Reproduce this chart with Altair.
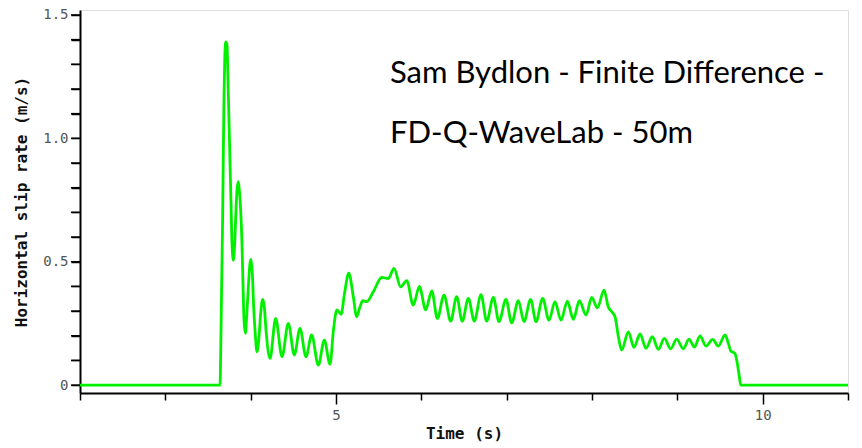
import altair as alt
import pandas as pd

# Time (s) and horizontal slip rate (m/s)
time_s = [2.0, 3.641, 3.649, 3.660, 3.672, 3.680, 3.688, 3.696, 3.707, 3.723, 3.734, 3.746,
          3.758, 3.770, 3.781, 3.797, 3.813, 3.828, 3.840, 3.855, 3.867, 3.883, 3.898, 3.910,
          3.922, 3.938, 3.953, 3.973, 3.992, 4.004, 4.020, 4.035, 4.051, 4.074, 4.098, 4.117,
          4.141, 4.160, 4.180, 4.227, 4.293, 4.367, 4.441, 4.512, 4.578, 4.648, 4.715, 4.793,
          4.863, 4.930, 4.970, 5.010, 5.060, 5.100, 5.150, 5.203, 5.242, 5.281, 5.313, 5.360,
          5.437, 5.536, 5.613, 5.680, 5.758, 5.829, 5.906, 5.977, 6.051, 6.122, 6.188, 6.266,
          6.344, 6.414, 6.480, 6.551, 6.621, 6.699, 6.766, 6.844, 6.910, 6.992, 7.059, 7.137,
          7.203, 7.281, 7.344, 7.422, 7.496, 7.566, 7.637, 7.711, 7.781, 7.852, 7.930, 7.997,
          8.063, 8.141, 8.191, 8.231, 8.270, 8.309, 8.348, 8.426, 8.492, 8.563, 8.633, 8.707,
          8.777, 8.848, 8.922, 8.992, 9.070, 9.137, 9.200, 9.266, 9.336, 9.414, 9.480, 9.559,
          9.598, 9.625, 9.676, 9.703, 9.727, 9.742, 11.0]
slip_rate = [0.0, 0.0, 0.135, 0.405, 0.689, 0.952, 1.175, 1.317, 1.391, 1.378, 1.236, 1.074,
             0.899, 0.737, 0.575, 0.506, 0.575, 0.709, 0.790, 0.824, 0.790, 0.709, 0.575, 0.413,
             0.263, 0.210, 0.277, 0.398, 0.493, 0.509, 0.452, 0.317, 0.223, 0.135, 0.196, 0.290,
             0.347, 0.317, 0.223, 0.108, 0.270, 0.115, 0.250, 0.122, 0.230, 0.115, 0.203, 0.081,
             0.182, 0.085, 0.223, 0.305, 0.287, 0.372, 0.454, 0.358, 0.277, 0.317, 0.342, 0.338,
             0.378, 0.436, 0.432, 0.473, 0.398, 0.423, 0.324, 0.400, 0.305, 0.382, 0.270, 0.365,
             0.259, 0.358, 0.259, 0.351, 0.259, 0.367, 0.259, 0.355, 0.257, 0.347, 0.252, 0.342,
             0.257, 0.347, 0.257, 0.351, 0.263, 0.338, 0.263, 0.340, 0.266, 0.342, 0.284, 0.355,
             0.313, 0.385, 0.317, 0.297, 0.277, 0.196, 0.142, 0.216, 0.153, 0.207, 0.149, 0.196,
             0.145, 0.189, 0.147, 0.186, 0.147, 0.186, 0.154, 0.199, 0.158, 0.185, 0.158, 0.203,
             0.169, 0.139, 0.128, 0.088, 0.034, 0.0, 0.0]

note_lines = ["Sam Bydlon - Finite Difference -", "FD-Q-WaveLab - 50m"]
note_t = [5.633, 5.633]
note_v = [1.225, 0.982]

x_ticks = [2, 3, 4, 5, 6, 7, 8, 9, 10, 11]
y_ticks = [0, 0.1, 0.2, 0.3, 0.4, 0.5, 0.6, 0.7, 0.8, 0.9, 1.0, 1.1, 1.2, 1.3, 1.4, 1.5]

df = pd.DataFrame({"t": time_s, "v": slip_rate})
notes = pd.DataFrame({"t": note_t, "v": note_v, "txt": note_lines})
ytick_df = pd.DataFrame({"v": y_ticks})

xscale = alt.Scale(domain=[2, 11], nice=False, zero=False)
yscale = alt.Scale(domain=[-0.032, 1.52], nice=False, zero=False)

mono = "DejaVu Sans Mono"

y_label_expr = ("datum.value === 0 ? '0' : "
                "(abs(datum.value - 0.5) < 0.001 || abs(datum.value - 1) < 0.001 || abs(datum.value - 1.5) < 0.001) "
                "? format(datum.value, '.1f') : ''")

x_axis = alt.Axis(values=x_ticks, format="d", tickCount=20,
                  labelExpr="datum.value % 5 === 0 ? datum.label : ''",
                  tickSize={"condition": {"test": "datum.value % 5 === 0", "value": 11}, "value": 7},
                  grid=False, labelOverlap=False, labelFont=mono, labelFontSize=14,
                  labelColor="#555555", labelPadding=4, titleFont=mono, titleFontSize=16,
                  titleFontWeight="bold", titleColor="#111111", titlePadding=3,
                  domainColor="black", domainWidth=2, tickColor="black", tickWidth=1.5)
y_axis = alt.Axis(values=y_ticks, tickCount=40, labelExpr=y_label_expr,
                  tickSize=9, grid=False, labelOverlap=False, labelFont=mono, labelFontSize=14,
                  labelColor="#555555", labelPadding=3, titleFont=mono, titleFontSize=16,
                  titleFontWeight="bold", titleColor="#111111", titlePadding=13,
                  domainColor="black", domainWidth=2, tickColor="black", tickWidth=1.5)

X = alt.X("t:Q", scale=xscale, title="Time (s)", axis=x_axis)
Y = alt.Y("v:Q", scale=yscale, title="Horizontal slip rate (m/s)", axis=y_axis)

line = alt.Chart(df).mark_line(color="#00f000", strokeWidth=2.8, interpolate="monotone").encode(
    x=X, y=Y,
)

# minor ticks on the y axis, positioned through the y scale
yticks = alt.Chart(ytick_df).mark_rule(color="black", strokeWidth=1.5).encode(
    y=Y, x=alt.value(-9), x2=alt.value(0),
)

text = alt.Chart(notes).mark_text(align="left", baseline="alphabetic", font="Lato",
                                  fontSize=31, color="black").encode(
    x=X, y=Y, text="txt:N",
)

chart = alt.layer(line, yticks, text).properties(
    width=768, height=383,
    autosize=alt.AutoSizeParams(type="none"),
    padding={"left": 80, "top": 10, "right": 14, "bottom": 55},
).configure_view(strokeWidth=0).configure(background="white")

chart.save("out.html", embed_options={"renderer": "svg", "actions": False})
